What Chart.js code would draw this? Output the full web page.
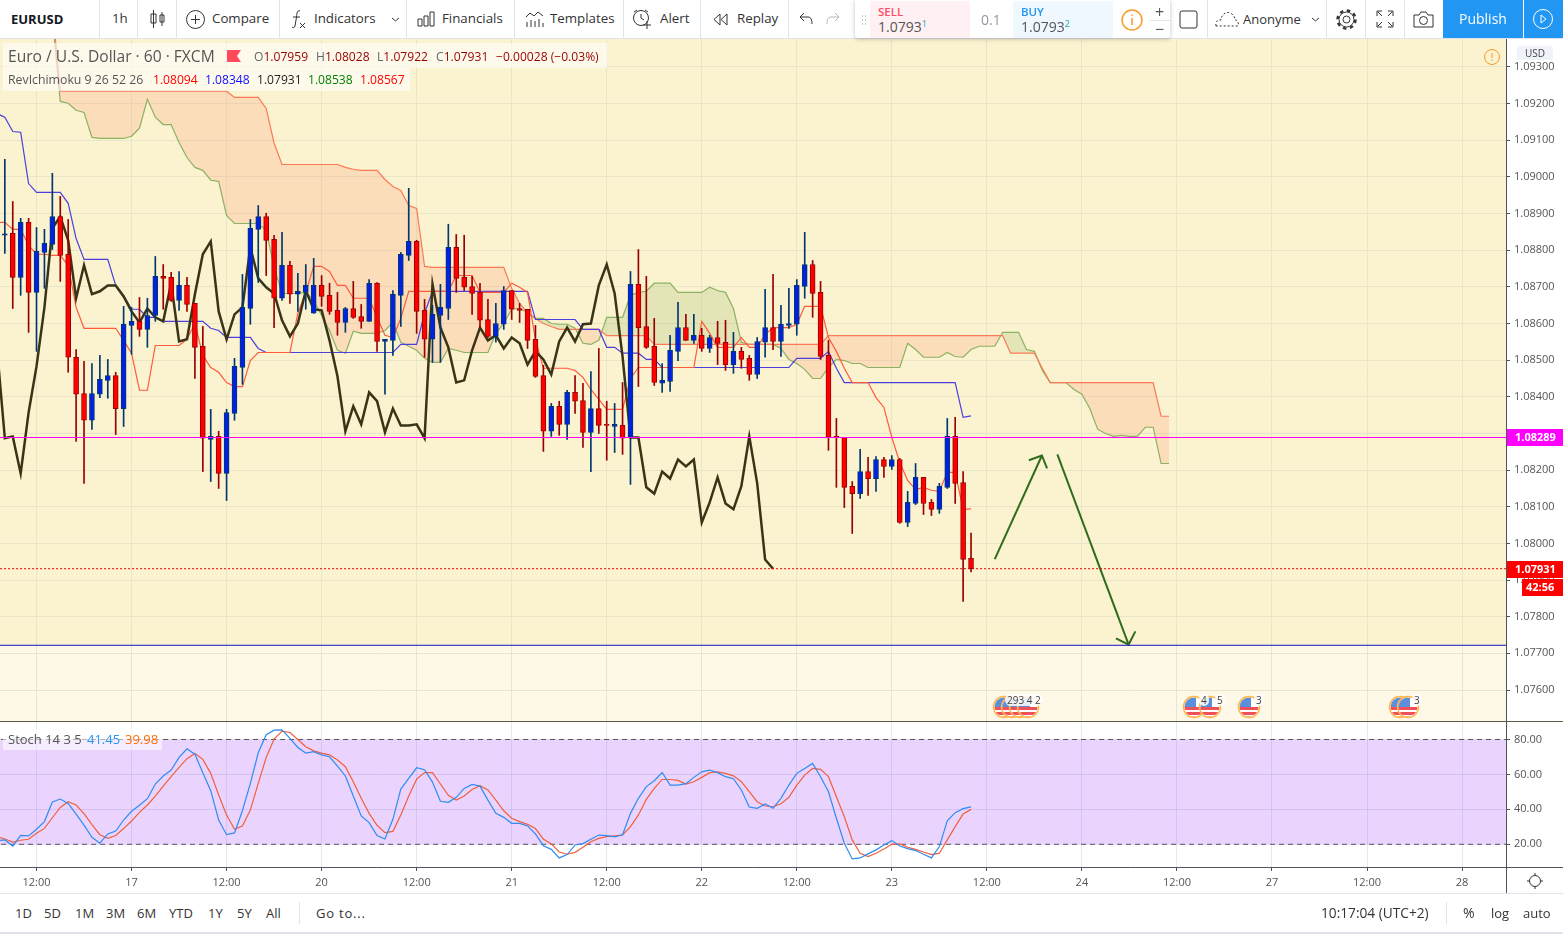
<!DOCTYPE html>
<html>
<head>
<meta charset="utf-8">
<title>EURUSD</title>
<script src="https://cdn.jsdelivr.net/npm/chart.js@4/dist/chart.umd.min.js"></script>
<style>
  html, body { margin: 0; padding: 0; background: #fff; overflow: hidden; }
  body { width: 1563px; height: 934px; position: relative; font-family: 'Open Sans', sans-serif; color: #333; }
  canvas { position: absolute; left: 0; display: block; }
  .t { position: absolute; white-space: nowrap; transform: translateY(-50%); line-height: 1; }
  .b { position: absolute; }
  svg { position: absolute; overflow: visible; }
  sup { font-size: 9px; color: #26a69a; vertical-align: 5px; line-height: 0; }
</style>
</head>
<body>
<canvas id="priceChart" width="1563" height="683" style="top:39px"></canvas>
<canvas id="stochChart" width="1563" height="171" style="top:722px"></canvas>
<script>
'use strict';

// bar index 0 is the first 12:00 on the time axis, one bar per hour
var firstBar = -4;
var opens = [
  1.08841,1.08846,1.08726,1.08876,1.08685,1.08794,1.08816,1.08892,1.08789,1.08508,
  1.08409,1.08336,1.08407,1.08445,1.08458,1.08368,1.08595,1.08606,1.08584,1.08622,
  1.08729,1.08726,1.08663,1.08704,1.08655,1.08538,1.08284,1.08292,1.08191,1.08355,
  1.08480,1.08641,1.08857,1.08892,1.08830,1.08669,1.08759,1.08680,1.08685,1.08628,
  1.08704,1.08677,1.08636,1.08603,1.08641,1.08619,1.08606,1.08710,1.08551,1.08554,
  1.08677,1.08786,1.08824,1.08636,1.08557,1.08622,1.08641,1.08808,1.08726,1.08701,
  1.08685,1.08611,1.08565,1.08598,1.08690,1.08641,1.08639,1.08557,1.08458,1.08306,
  1.08374,1.08325,1.08412,1.08390,1.08303,1.08368,1.08325,1.08319,1.08322,1.08289,
  1.08707,1.08592,1.08538,1.08437,1.08442,1.08524,1.08589,1.08554,1.08568,1.08532,
  1.08562,1.08549,1.08488,1.08524,1.08505,1.08461,1.08549,1.08589,1.08551,1.08595,
  1.08598,1.08701,1.08761,1.08685,1.08513,1.08292,1.08289,1.08156,1.08136,1.08196,
  1.08177,1.08229,1.08210,1.08229,1.08057,1.08109,1.08180,1.08112,1.08093,1.08153,
  1.08292,1.08166,1.07959
];
var highs = [
  1.09048,1.08933,1.08887,1.08887,1.08862,1.08857,1.09010,1.08947,1.08884,1.08529,
  1.08497,1.08491,1.08513,1.08502,1.08467,1.08647,1.08644,1.08671,1.08669,1.08783,
  1.08761,1.08740,1.08742,1.08726,1.08655,1.08592,1.08366,1.08306,1.08366,1.08505,
  1.08734,1.08884,1.08922,1.08901,1.08841,1.08849,1.08770,1.08737,1.08761,1.08778,
  1.08731,1.08710,1.08685,1.08644,1.08715,1.08652,1.08720,1.08712,1.08557,1.08690,
  1.08794,1.08969,1.08827,1.08666,1.08650,1.08707,1.08871,1.08843,1.08841,1.08729,
  1.08710,1.08666,1.08655,1.08701,1.08690,1.08655,1.08639,1.08595,1.08486,1.08382,
  1.08388,1.08418,1.08458,1.08437,1.08469,1.08532,1.08388,1.08382,1.08439,1.08742,
  1.08802,1.08729,1.08614,1.08491,1.08568,1.08658,1.08625,1.08625,1.08587,1.08568,
  1.08606,1.08609,1.08576,1.08535,1.08513,1.08562,1.08693,1.08734,1.08650,1.08696,
  1.08720,1.08849,1.08772,1.08715,1.08554,1.08341,1.08289,1.08169,1.08257,1.08235,
  1.08237,1.08235,1.08240,1.08232,1.08142,1.08218,1.08180,1.08120,1.08164,1.08341,
  1.08344,1.08196,1.08028
];
var lows = [
  1.08791,1.08641,1.08677,1.08576,1.08524,1.08696,1.08802,1.08715,1.08467,1.08278,
  1.08164,1.08311,1.08398,1.08396,1.08297,1.08319,1.08516,1.08565,1.08535,1.08606,
  1.08639,1.08660,1.08636,1.08633,1.08450,1.08196,1.08169,1.08150,1.08117,1.08336,
  1.08434,1.08598,1.08712,1.08731,1.08589,1.08663,1.08655,1.08633,1.08639,1.08628,
  1.08647,1.08625,1.08568,1.08576,1.08614,1.08587,1.08606,1.08524,1.08407,1.08513,
  1.08592,1.08772,1.08573,1.08508,1.08494,1.08494,1.08611,1.08685,1.08690,1.08625,
  1.08589,1.08562,1.08549,1.08584,1.08611,1.08603,1.08532,1.08453,1.08251,1.08292,
  1.08295,1.08284,1.08355,1.08262,1.08196,1.08300,1.08227,1.08248,1.08243,1.08161,
  1.08428,1.08532,1.08431,1.08412,1.08415,1.08499,1.08554,1.08546,1.08524,1.08521,
  1.08488,1.08472,1.08464,1.08478,1.08445,1.08450,1.08508,1.08529,1.08510,1.08587,
  1.08568,1.08669,1.08617,1.08502,1.08254,1.08153,1.08098,1.08027,1.08123,1.08131,
  1.08142,1.08180,1.08202,1.08055,1.08046,1.08106,1.08079,1.08076,1.08082,1.08150,
  1.08109,1.07842,1.07922
];
var closes = [
  1.08845,1.08726,1.08876,1.08685,1.08797,1.08819,1.08892,1.08786,1.08508,1.08407,
  1.08336,1.08409,1.08448,1.08458,1.08368,1.08598,1.08606,1.08584,1.08622,1.08729,
  1.08723,1.08663,1.08704,1.08652,1.08535,1.08287,1.08292,1.08191,1.08357,1.08483,
  1.08644,1.08860,1.08892,1.08827,1.08669,1.08759,1.08680,1.08688,1.08704,1.08704,
  1.08674,1.08633,1.08603,1.08641,1.08617,1.08606,1.08710,1.08551,1.08557,1.08680,
  1.08789,1.08824,1.08633,1.08557,1.08625,1.08644,1.08808,1.08723,1.08699,1.08682,
  1.08609,1.08565,1.08600,1.08690,1.08639,1.08636,1.08554,1.08456,1.08306,1.08374,
  1.08325,1.08412,1.08388,1.08303,1.08368,1.08322,1.08322,1.08325,1.08287,1.08707,
  1.08589,1.08535,1.08439,1.08445,1.08527,1.08589,1.08554,1.08568,1.08532,1.08562,
  1.08546,1.08488,1.08524,1.08502,1.08461,1.08551,1.08589,1.08551,1.08598,1.08600,
  1.08704,1.08761,1.08682,1.08510,1.08289,1.08289,1.08153,1.08136,1.08196,1.08177,
  1.08229,1.08210,1.08229,1.08057,1.08112,1.08180,1.08109,1.08093,1.08156,1.08292,
  1.08164,1.07956,1.07931
];

// Ichimoku lines, each with the bar index of its first value
var lineStart = -5;
var tenkan = [
  1.08876,1.08876,1.08857,1.08857,1.08813,1.08789,1.08789,1.08786,1.08786,1.08759,
  1.08644,1.08587,1.08587,1.08587,1.08587,1.08587,1.08554,1.08519,1.08418,1.08418,
  1.08540,1.08540,1.08540,1.08540,1.08557,1.08600,1.08513,1.08480,1.08467,1.08439,
  1.08428,1.08428,1.08499,1.08521,1.08521,1.08521,1.08521,1.08521,1.08628,1.08685,
  1.08756,1.08756,1.08742,1.08704,1.08704,1.08669,1.08669,1.08669,1.08617,1.08568,
  1.08562,1.08614,1.08688,1.08688,1.08688,1.08688,1.08688,1.08688,1.08731,1.08731,
  1.08731,1.08685,1.08685,1.08685,1.08685,1.08710,1.08699,1.08685,1.08557,1.08478,
  1.08478,1.08478,1.08478,1.08472,1.08453,1.08420,1.08393,1.08366,1.08366,1.08366,
  1.08450,1.08480,1.08480,1.08480,1.08480,1.08480,1.08480,1.08480,1.08480,1.08606,
  1.08573,1.08535,1.08535,1.08535,1.08562,1.08535,1.08535,1.08570,1.08589,1.08589,
  1.08589,1.08598,1.08647,1.08647,1.08647,1.08562,1.08524,1.08478,1.08439,1.08439,
  1.08439,1.08398,1.08371,1.08289,1.08221,1.08172,1.08147,1.08153,1.08145,1.08142,
  1.08194,1.08194,1.08093,1.08094
];
var kijun = [
  1.09173,1.09163,1.09124,1.09122,1.08982,1.08958,1.08958,1.08958,1.08958,1.08928,
  1.08832,1.08775,1.08775,1.08775,1.08775,1.08704,1.08677,1.08639,1.08639,1.08617,
  1.08617,1.08606,1.08606,1.08606,1.08606,1.08606,1.08606,1.08587,1.08581,1.08562,
  1.08562,1.08562,1.08562,1.08532,1.08521,1.08521,1.08521,1.08521,1.08521,1.08521,
  1.08521,1.08521,1.08521,1.08521,1.08521,1.08521,1.08521,1.08521,1.08521,1.08521,
  1.08521,1.08543,1.08543,1.08543,1.08628,1.08688,1.08688,1.08688,1.08688,1.08688,
  1.08688,1.08688,1.08688,1.08688,1.08688,1.08688,1.08688,1.08688,1.08611,1.08611,
  1.08611,1.08611,1.08611,1.08611,1.08584,1.08584,1.08584,1.08535,1.08535,1.08519,
  1.08519,1.08519,1.08502,1.08502,1.08480,1.08480,1.08480,1.08480,1.08480,1.08480,
  1.08480,1.08480,1.08480,1.08480,1.08480,1.08480,1.08480,1.08480,1.08480,1.08480,
  1.08480,1.08505,1.08505,1.08505,1.08505,1.08524,1.08478,1.08439,1.08439,1.08439,
  1.08439,1.08439,1.08439,1.08439,1.08439,1.08439,1.08439,1.08439,1.08439,1.08439,
  1.08439,1.08439,1.08344,1.08348
];
// chikou ends 25 bars before the last candle
var chikou = [
  1.08535,1.08287,1.08292,1.08191,1.08357,1.08483,1.08644,1.08860,1.08892,1.08827,
  1.08669,1.08759,1.08680,1.08688,1.08704,1.08704,1.08674,1.08633,1.08603,1.08641,
  1.08617,1.08606,1.08710,1.08551,1.08557,1.08680,1.08789,1.08824,1.08633,1.08557,
  1.08625,1.08644,1.08808,1.08723,1.08699,1.08682,1.08609,1.08565,1.08600,1.08690,
  1.08639,1.08636,1.08554,1.08456,1.08306,1.08374,1.08325,1.08412,1.08388,1.08303,
  1.08368,1.08322,1.08322,1.08325,1.08287,1.08707,1.08589,1.08535,1.08439,1.08445,
  1.08527,1.08589,1.08554,1.08568,1.08532,1.08562,1.08546,1.08488,1.08524,1.08502,
  1.08461,1.08551,1.08589,1.08551,1.08598,1.08600,1.08704,1.08761,1.08682,1.08510,
  1.08289,1.08289,1.08153,1.08136,1.08196,1.08177,1.08229,1.08210,1.08229,1.08057,
  1.08112,1.08180,1.08109,1.08093,1.08156,1.08292,1.08164,1.07956,1.07931
];
var spanStart = 2;
var spanA = [
  1.09440,1.09206,1.09201,1.09182,1.09176,1.09108,1.09105,1.09105,1.09105,1.09105,
  1.09111,1.09133,1.09212,1.09163,1.09143,1.09143,1.09094,1.09053,1.09026,1.09018,
  1.08991,1.08988,1.08895,1.08873,1.08873,1.08873,1.08873,1.08854,1.08753,1.08682,
  1.08682,1.08682,1.08685,1.08663,1.08622,1.08581,1.08527,1.08519,1.08579,1.08573,
  1.08573,1.08573,1.08581,1.08603,1.08549,1.08538,1.08527,1.08505,1.08494,1.08494,
  1.08532,1.08527,1.08521,1.08521,1.08521,1.08521,1.08573,1.08600,1.08639,1.08641,
  1.08630,1.08614,1.08614,1.08600,1.08598,1.08598,1.08587,1.08546,1.08543,1.08554,
  1.08617,1.08617,1.08617,1.08677,1.08685,1.08688,1.08710,1.08710,1.08710,1.08685,
  1.08685,1.08685,1.08685,1.08699,1.08690,1.08685,1.08641,1.08549,1.08543,1.08543,
  1.08543,1.08543,1.08532,1.08502,1.08491,1.08475,1.08450,1.08450,1.08480,1.08502,
  1.08499,1.08491,1.08491,1.08480,1.08480,1.08480,1.08480,1.08480,1.08546,1.08529,
  1.08508,1.08508,1.08508,1.08521,1.08510,1.08508,1.08529,1.08538,1.08538,1.08538,
  1.08576,1.08576,1.08576,1.08529,1.08524,1.08472,1.08439,1.08439,1.08439,1.08420,
  1.08407,1.08368,1.08311,1.08300,1.08292,1.08295,1.08292,1.08292,1.08317,1.08317,
  1.08218,1.08218
];
var spanB = [
  1.09463,1.09234,1.09234,1.09234,1.09234,1.09234,1.09234,1.09234,1.09234,1.09234,
  1.09234,1.09234,1.09234,1.09234,1.09234,1.09234,1.09234,1.09234,1.09234,1.09234,
  1.09234,1.09234,1.09234,1.09217,1.09217,1.09217,1.09217,1.09187,1.09092,1.09034,
  1.09034,1.09034,1.09034,1.09034,1.09034,1.09034,1.09034,1.09026,1.09021,1.09018,
  1.09018,1.09018,1.08993,1.08974,1.08963,1.08922,1.08914,1.08756,1.08753,1.08753,
  1.08753,1.08753,1.08753,1.08753,1.08753,1.08753,1.08753,1.08753,1.08696,1.08655,
  1.08630,1.08614,1.08600,1.08592,1.08584,1.08584,1.08584,1.08584,1.08584,1.08584,
  1.08567,1.08567,1.08567,1.08567,1.08567,1.08567,1.08543,1.08543,1.08543,1.08543,
  1.08543,1.08543,1.08543,1.08543,1.08543,1.08543,1.08543,1.08543,1.08543,1.08543,
  1.08543,1.08543,1.08543,1.08543,1.08543,1.08543,1.08543,1.08543,1.08567,1.08567,
  1.08567,1.08567,1.08567,1.08567,1.08567,1.08567,1.08567,1.08567,1.08567,1.08567,
  1.08567,1.08567,1.08567,1.08567,1.08567,1.08567,1.08567,1.08567,1.08567,1.08567,
  1.08567,1.08519,1.08519,1.08519,1.08519,1.08478,1.08439,1.08439,1.08439,1.08439,
  1.08439,1.08439,1.08439,1.08439,1.08439,1.08439,1.08439,1.08439,1.08439,1.08439,
  1.08347,1.08347
];

// stochastic, same bar indexes as lineStart
var stochK = [
  22.1,22.5,19.0,25.1,24.8,28.6,33.0,44.2,45.9,43.4,37.3,31.0,24.0,20.6,25.9,27.6,33.9,38.9,42.3,46.1,
  54.5,59.1,62.5,69.7,74.7,71.6,61.0,50.7,33.9,25.5,26.5,39.2,54.9,72.4,82.7,85.3,85.5,80.6,75.4,72.2,
  73.0,71.2,70.1,64.8,59.1,47.6,36.2,32.4,25.0,23.0,34.3,51.6,57.7,63.8,62.7,55.6,44.6,44.0,46.9,52.0,
  54.3,53.3,45.3,37.7,35.4,32.0,32.0,30.5,25.9,19.2,17.1,12.2,14.1,19.6,20.4,22.9,25.3,25.0,24.2,25.5,
  37.7,46.3,53.0,56.4,61.1,53.9,53.9,54.7,58.3,61.5,62.5,61.0,58.7,57.5,51.1,41.3,40.6,43.1,40.6,46.3,
  53.9,60.6,63.4,66.3,58.7,50.1,34.9,20.6,11.6,12.2,14.5,16.8,19.6,22.1,19.0,17.5,16.4,14.3,12.2,18.7,
  33.5,38.1,40.4,41.45
];
var stochD = [
  24.4,23.0,21.3,22.3,22.9,26.3,29.1,35.2,41.1,44.4,42.5,37.5,31.2,25.5,23.4,25.0,29.0,33.3,38.3,42.5,
  47.6,53.3,58.7,64.0,69.0,72.0,68.6,60.6,48.2,36.8,28.6,30.5,39.6,54.9,69.7,80.2,84.8,84.0,80.0,75.8,
  73.5,72.2,71.2,68.2,64.4,55.8,46.3,37.7,30.9,26.7,27.4,36.8,47.6,57.3,61.1,61.0,54.5,48.0,45.3,47.6,
  51.4,53.5,51.1,45.3,39.2,34.9,33.0,31.4,29.0,23.0,20.2,15.6,14.3,15.4,18.3,21.5,23.4,24.4,24.8,25.3,
  30.1,36.8,45.7,52.0,57.1,57.1,56.6,54.5,55.8,58.3,61.0,61.5,60.6,59.2,55.8,50.1,44.4,41.9,41.5,43.2,
  46.9,53.9,59.6,63.4,62.9,58.7,47.2,35.8,22.5,14.9,13.0,14.9,17.3,20.0,20.2,18.3,17.1,15.6,14.1,14.9,
  22.5,30.1,37.3,39.98
];

// levels and drawings on the price pane
var magentaLevel = 1.08289;
var lastPrice = 1.07931;
var supportLevel = 1.07722;
var arrowUpX = [121.0, 126.95];
var arrowUpY = [1.07957, 1.08240];
var arrowUpHeadX = [125.3, 126.95, 127.6];
var arrowUpHeadY = [1.08227, 1.08240, 1.08205];
var arrowDownX = [128.9, 137.9];
var arrowDownY = [1.08243, 1.07724];
var arrowDownHeadX = [136.3, 137.9, 138.75];
var arrowDownHeadY = [1.07741, 1.07724, 1.07760];

// axes
var timeTicks = [0,12,24,36,48,60,72,84,96,108,120,132,144,156,168,180];
var timeLabels = ['12:00','17','12:00','20','12:00','21','12:00','22','12:00','23','12:00','24','12:00','27','12:00','28'];
var priceTicks = [1.076,1.077,1.078,1.079,1.080,1.081,1.082,1.083,1.084,1.085,1.086,1.087,1.088,1.089,1.090,1.091,1.092,1.093];
var stochTicks = [20,40,60,80];
var xMin = -4.61, xMax = 185.55;
var priceMin = 1.075127, priceMax = 1.093764;
var stochMin = 7, stochMax = 90;

var font = "'Open Sans', sans-serif";

function pts(first, values) {
  return values.map(function (v, k) { return { x: first + k, y: v }; });
}
function pairs(xs, ys) {
  return xs.map(function (x, k) { return { x: x, y: ys[k] }; });
}
function level(v) {
  return [{ x: xMin - 1, y: v }, { x: xMax + 1, y: v }];
}
function line(data, color, width, order, extra) {
  return Object.assign({ type: 'line', data: data, borderColor: color, borderWidth: width, pointRadius: 0, tension: 0, fill: false, order: order }, extra || {});
}

var isUp = closes.map(function (c, k) { return c >= opens[k]; });
var bodyColors = isUp.map(function (u) { return u ? '#0022e0' : '#ff0000'; });
var wickColors = isUp.map(function (u) { return u ? '#00386e' : '#990000'; });

var candleBodies = opens.map(function (o, k) { return { x: firstBar + k, y: [o, closes[k]] }; });
var candleWicks = lows.map(function (l, k) { return { x: firstBar + k, y: [l, highs[k]] }; });

// pane background, darker above the support level
var priceBackground = {
  id: 'priceBackground',
  beforeDraw: function (chart) {
    var a = chart.chartArea, c = chart.ctx;
    var y = chart.scales.y.getPixelForValue(supportLevel);
    c.save();
    c.fillStyle = '#fbf2d0';
    c.fillRect(a.left, a.top, a.right - a.left, y - a.top);
    c.fillStyle = '#fdf8e8';
    c.fillRect(a.left, y, a.right - a.left, a.bottom - y);
    c.restore();
  }
};

// the panes must fill their canvas, so drop the padding labels would reserve
function noPadding(s) {
  s.paddingTop = 0; s.paddingBottom = 0; s.paddingLeft = 0; s.paddingRight = 0;
}
function timeScale(showLabels, gridColor) {
  return {
    type: 'linear', min: xMin, max: xMax, offset: false,
    afterBuildTicks: function (s) { s.ticks = timeTicks.map(function (v) { return { value: v }; }); },
    afterFit: function (s) { s.height = showLabels ? 26 : 0; noPadding(s); },
    grid: { color: gridColor, lineWidth: 1, offset: false, drawTicks: showLabels, tickLength: 4, tickColor: '#50535e' },
    border: { display: showLabels, color: '#50535e' },
    ticks: {
      display: showLabels, autoSkip: false, maxRotation: 0, padding: 5, color: '#555',
      font: { family: font, size: 11 },
      callback: function (v) { return timeLabels[timeTicks.indexOf(v)]; }
    }
  };
}
function valueScale(min, max, ticks, digits, gridColor) {
  return {
    position: 'right', min: min, max: max,
    afterBuildTicks: function (s) { s.ticks = ticks.map(function (v) { return { value: v }; }); },
    afterFit: function (s) { s.width = 57; noPadding(s); },
    grid: { color: gridColor, lineWidth: 1, tickLength: 4, tickColor: '#50535e' },
    border: { color: '#50535e' },
    ticks: {
      autoSkip: false, padding: 4, color: '#555', font: { family: font, size: 11 },
      callback: function (v) { return Number(v).toFixed(digits); }
    }
  };
}
var baseOptions = {
  responsive: false, animation: false, events: [],
  layout: { padding: 0 },
  plugins: { legend: { display: false }, tooltip: { enabled: false } }
};

var spanBIndex = 5;
new Chart(document.getElementById('priceChart'), {
  type: 'line',
  plugins: [priceBackground],
  data: {
    datasets: [
      { type: 'bar', data: candleBodies, backgroundColor: bodyColors, borderColor: wickColors, borderWidth: 1, borderSkipped: false, barThickness: 5, grouped: false, minBarLength: 1, order: 1 },
      { type: 'bar', data: candleWicks, backgroundColor: wickColors, borderWidth: 0, barThickness: 1, grouped: false, order: 2 },
      line(pts(lineStart, chikou), '#3a3417', 2.5, 3),
      line(pts(lineStart, tenkan), '#ff5a3c', 1.2, 4),
      line(pts(lineStart, kijun), '#4b40dc', 1.2, 4),
      line(pts(spanStart, spanB), '#fb7a58', 1.2, 5),
      line(pts(spanStart, spanA), '#8cb162', 1.2, 5, { fill: { target: spanBIndex, above: 'rgba(120,165,60,0.17)', below: 'rgba(255,135,90,0.19)' } }),
      line(level(magentaLevel), '#ff00ff', 1, 0),
      line(level(lastPrice), '#d40000', 1, 0, { borderDash: [2, 2] }),
      line(level(supportLevel), '#1414c8', 1, 0),
      line(pairs(arrowUpX, arrowUpY), '#2f6d1c', 2, 0),
      line(pairs(arrowUpHeadX, arrowUpHeadY), '#2f6d1c', 2, 0),
      line(pairs(arrowDownX, arrowDownY), '#2f6d1c', 2, 0),
      line(pairs(arrowDownHeadX, arrowDownHeadY), '#2f6d1c', 2, 0)
    ]
  },
  options: Object.assign({}, baseOptions, {
    scales: {
      x: timeScale(false, '#e9e5c8'),
      y: valueScale(priceMin, priceMax, priceTicks, 5, '#e9e5c8')
    }
  })
});

new Chart(document.getElementById('stochChart'), {
  type: 'line',
  data: {
    datasets: [
      line(pts(lineStart, stochD), '#f0603c', 1.2, 1),
      line(pts(lineStart, stochK), '#2f8cf0', 1.2, 0),
      line(level(80), '#555', 1, 3, { borderDash: [5, 4], fill: { target: 3, above: 'rgba(150,40,250,0.2)', below: 'rgba(150,40,250,0.2)' } }),
      line(level(20), '#555', 1, 3, { borderDash: [5, 4] })
    ]
  },
  options: Object.assign({}, baseOptions, {
    scales: {
      x: timeScale(true, 'rgba(90,140,180,0.18)'),
      y: valueScale(stochMin, stochMax, stochTicks, 2, 'rgba(90,110,180,0.16)')
    }
  })
});

// chrome around the chart, plain DOM
function text(s, x, y, style) {
  var el = document.createElement('div');
  el.className = 't';
  el.innerHTML = s;
  el.style.cssText = 'left:' + x + 'px;top:' + y + 'px;' + (style || '');
  document.body.appendChild(el);
  return el;
}
function box(x, y, w, h, style) {
  var el = document.createElement('div');
  el.className = 'b';
  el.style.cssText = 'left:' + x + 'px;top:' + y + 'px;width:' + w + 'px;height:' + h + 'px;' + (style || '');
  document.body.appendChild(el);
  return el;
}
function icon(x, y, w, h, body) {
  var holder = document.createElement('div');
  holder.innerHTML = '<svg width="' + w + '" height="' + h + '" viewBox="0 0 ' + w + ' ' + h + '" fill="none" stroke="#333" stroke-width="1">' + body + '</svg>';
  var svg = holder.firstChild;
  svg.style.left = x + 'px';
  svg.style.top = y + 'px';
  document.body.appendChild(svg);
}

// top bar
box(0, 38, 1563, 1, 'background:#e0e3eb');
[99, 137, 176, 279, 406, 514, 623, 700, 788, 1207, 1326, 1365, 1404].forEach(function (x) { box(x, 0, 1, 38, 'background:#e0e3eb'); });
var topFont = 'font-size:13.3px;color:#333;';
text('EURUSD', 11, 19, 'font-size:13px;font-weight:700;color:#131722');
text('1h', 112, 19, topFont);
text('Compare', 212, 19, topFont);
text('Indicators', 314, 19, topFont);
text('Financials', 442, 19, topFont);
text('Templates', 550, 19, topFont);
text('Alert', 660, 19, topFont);
text('Replay', 737, 19, topFont);
text('Anonyme', 1243, 19, 'font-size:13px;color:#333');

icon(150, 9, 16, 20, '<path d="M3.5 1v18M3 5h3v9H1V5zM12 3v14M10 6h4v7h-4z"/>');
icon(186, 10, 19, 19, '<circle cx="9.5" cy="9.5" r="9"/><path d="M9.5 5v9M5 9.5h9"/>');
icon(291, 8, 16, 22, '<path d="M9 3C6 2 6 5 5.500 9L4 18c-.5 2-2 2-3 1M2 9h7M9 15l5 5M14 15l-5 5"/>');
icon(391, 17, 9, 5, '<path d="M1 1l3.500 3L8 1"/>');
icon(417, 11, 18, 16, '<path d="M1 8h4v7H1zM7 5h4v10H7zM13 1h4v14h-4z"/>');
icon(525, 10, 19, 18, '<path d="M1 7l4-4 4 3 4-4 5 4M2 17v-5M6 17v-7M10 17v-6M14 17v-8M18 17v-4"/>');
icon(632, 9, 20, 21, '<circle cx="9" cy="9" r="7.500"/><path d="M9 5v4l3 2M2 3l3-2M16 3l-3-2M11 16h8M15 12v8"/>');
icon(713, 13, 15, 13, '<path d="M7 1L1 6.500 7 12zM14 1L8 6.500 14 12z"/>');
icon(799, 12, 14, 13, '<path d="M1 5h8c3 0 4 3 4 7M1 5l4-4M1 5l4 4"/>');
icon(826, 12, 14, 13, '<path d="M13 5H5c-3 0-4 3-4 7M13 5L9 1M13 5L9 9" stroke="#b2b5be"/>');

// trading widget
box(855, 0, 315, 38, 'background:#fff;box-shadow:0 1px 4px rgba(0,0,0,.25);border-radius:0 0 3px 3px');
box(870, 1, 100, 37, 'background:#fff0f3');
box(1013, 1, 100, 37, 'background:#eff7ff');
box(1150, 20, 20, 1, 'background:#e0e3eb');
text('SELL', 878, 12, 'font-size:11.500px;font-weight:600;color:#ff4a68');
text('1.0793<sup>1</sup>', 878, 27, 'font-size:14px;color:#555');
text('0.1', 981, 20, 'font-size:14px;color:#9598a1');
text('BUY', 1021, 12, 'font-size:11.500px;font-weight:600;color:#2196f3');
text('1.0793<sup>2</sup>', 1021, 27, 'font-size:14px;color:#555');
text('+', 1155, 12, 'font-size:16px;color:#555');
text('−', 1155, 29, 'font-size:16px;color:#555');
icon(861, 15, 6, 12, '<path d="M1 1h1M4 1h1M1 5h1M4 5h1M1 9h1M4 9h1" stroke="#c8c8c8" stroke-width="2"/>');
icon(1121, 9, 22, 22, '<circle cx="11" cy="11" r="10" stroke="#f89b29" stroke-width="1.500"/><path d="M11 9v7M11 5.500v1.500" stroke="#f89b29" stroke-width="1.500"/>');

// right of the top bar
icon(1179, 10, 19, 19, '<rect x="1" y="1" width="17" height="17" rx="2"/>');
icon(1215, 9, 25, 20, '<path d="M1 17c-1-4 2-7 5-6 0-5 5-9 9-7 3 1 5 4 5 7 3 0 4 3 3 6z" stroke-dasharray="2 2"/>');
icon(1311, 17, 9, 5, '<path d="M1 1l3.500 3L8 1"/>');
icon(1336, 9, 21, 21, '<circle cx="10.500" cy="10.500" r="3.500"/><circle cx="10.500" cy="10.500" r="7.500"/><circle cx="10.500" cy="10.500" r="9" stroke-width="2.500" stroke-dasharray="3.500 3.570"/>');
icon(1376, 10, 18, 18, '<path d="M1 6V1h5M12 1h5v5M1 12v5h5M17 12v5h-5M2 2l4 4M16 2l-4 4M2 16l4-4M16 16l-4-4"/>');
icon(1413, 10, 21, 18, '<path d="M1 5h5l2-3h5l2 3h5v12H1z"/><circle cx="10.500" cy="10.500" r="4"/>');
box(1443, 0, 80, 38, 'background:#2196f3');
box(1524, 0, 39, 38, 'background:#2196f3');
text('Publish', 1459, 19, 'font-size:14px;color:#fff');
icon(1533, 9, 20, 20, '<circle cx="10" cy="10" r="9.500" stroke="#fff"/><path d="M8 6l5 4-5 4z" stroke="#fff" fill="none"/>');

// legend rows over the price pane
box(3, 43, 604, 25, 'background:rgba(255,255,255,.6)');
box(3, 68, 407, 23, 'background:rgba(255,255,255,.6)');
text('Euro / U.S. Dollar · 60 · FXCM', 8, 57, 'font-size:15.6px;color:#555');
icon(227, 50, 14, 12, '<path d="M0 0h14l-4 6 4 6H0z" fill="#ff4a5c" stroke="none"/>');
var ohlcStyle = 'font-size:12.1px;color:#990000;';
var tag = function (c) { return '<span style="color:#666">' + c + '</span>'; };
text(tag('O') + '1.07959', 254, 57, ohlcStyle);
text(tag('H') + '1.08028', 316, 57, ohlcStyle);
text(tag('L') + '1.07922', 377, 57, ohlcStyle);
text(tag('C') + '1.07931', 436, 57, ohlcStyle);
text('−0.00028 (−0.03%)', 496, 57, ohlcStyle);
text('RevIchimoku 9 26 52 26', 8, 80, 'font-size:12.3px;color:#555');
text('1.08094', 153, 80, 'font-size:12.1px;color:#ff0000');
text('1.08348', 205, 80, 'font-size:12.1px;color:#1010ff');
text('1.07931', 257, 80, 'font-size:12.1px;color:#222');
text('1.08538', 308, 80, 'font-size:12.1px;color:#008000');
text('1.08567', 360, 80, 'font-size:12.1px;color:#ff0000');

// stochastic legend
box(3, 729, 159, 21, 'background:rgba(255,255,255,.55)');
text('Stoch 14 3 5', 8, 739, 'font-size:13px;color:#555');
text('41.45', 87, 739, 'font-size:13px;color:#2196f3');
text('39.98', 125, 739, 'font-size:13px;color:#ff6d00');

// right axis extras
box(1517, 46, 36, 14, 'background:#f0f3fa;border-radius:2px');
text('USD', 1525, 53, 'font-size:10px;color:#444');
icon(1484, 49, 16, 16, '<circle cx="8" cy="8" r="7.500" stroke="#f89b29"/><path d="M8 4v5M8 10.500v1.500" stroke="#f89b29"/>');
box(1507, 429, 56, 17, 'background:#ff00ff');
text('1.08289', 1515, 436, 'font-size:11px;font-weight:700;color:#fff');
box(1507, 561, 56, 17, 'background:#ff0000');
text('1.07931', 1515, 568, 'font-size:11px;font-weight:700;color:#fff');
box(1522, 579, 41, 17, 'background:#ff0000');
text('42:56', 1526, 586, 'font-size:11px;font-weight:700;color:#fff');

// economic event flags
var flagCenters = [1004, 1012, 1020, 1028, 1194, 1210, 1249, 1400, 1408];
flagCenters.forEach(function (cx, k) {
  icon(cx - 12, 695, 24, 24,
    '<clipPath id="fc' + k + '"><circle cx="12" cy="12" r="9.500"/></clipPath>' +
    '<g clip-path="url(#fc' + k + ')" stroke="none"><rect width="24" height="24" fill="#fff"/>' +
    '<rect y="12" width="24" height="3" fill="#f0505a"/><rect y="17" width="24" height="3" fill="#f0505a"/><rect y="21" width="24" height="3" fill="#f0505a"/>' +
    '<rect y="2" width="14" height="10" fill="#5b8fdc"/></g>' +
    '<circle cx="12" cy="12" r="10.500" stroke="#ffb74d" stroke-width="1.500"/>');
});
var eventBadges = [['293 4 2', 1005], ['4', 1199], ['5', 1215], ['3', 1254], ['3', 1412]];
eventBadges.forEach(function (b) {
  text(b[0], b[1], 699.500, 'font-size:10px;color:#444;background:rgba(255,255,255,.85);padding:1px 2px;border-radius:6px');
});

// pane separators
box(0, 721, 1563, 1, 'background:#5d5a48');
box(1506, 867, 1, 26, 'background:#50535e');
box(1506, 867, 57, 1, 'background:#50535e');
icon(1527, 873, 16, 16, '<circle cx="8" cy="8" r="5.500"/><path d="M8 0v2.500M8 13.500V16M0 8h2.500M13.500 8H16"/>');

// bottom bar
box(0, 893, 1563, 1, 'background:#e0e3eb');
box(0, 932, 1563, 2, 'background:#e0e3eb');
box(299, 902, 1, 22, 'background:#e0e3eb');
box(1446, 902, 1, 22, 'background:#e0e3eb');
var rangeLabels = ['1D', '5D', '1M', '3M', '6M', 'YTD', '1Y', '5Y', 'All'];
var rangeX = [15, 44, 75, 106, 137, 169, 208, 237, 266];
rangeLabels.forEach(function (s, k) { text(s, rangeX[k], 913, 'font-size:13px;color:#333'); });
text('Go to...', 316, 913, 'font-size:13px;color:#333;letter-spacing:.8px');
text('10:17:04 (UTC+2)', 1321, 913, 'font-size:13.7px;color:#333');
text('%', 1463, 913, 'font-size:14px;color:#333');
text('log', 1491, 913, 'font-size:13px;color:#333');
text('auto', 1523, 913, 'font-size:13px;color:#333');
</script>
</body>
</html>
